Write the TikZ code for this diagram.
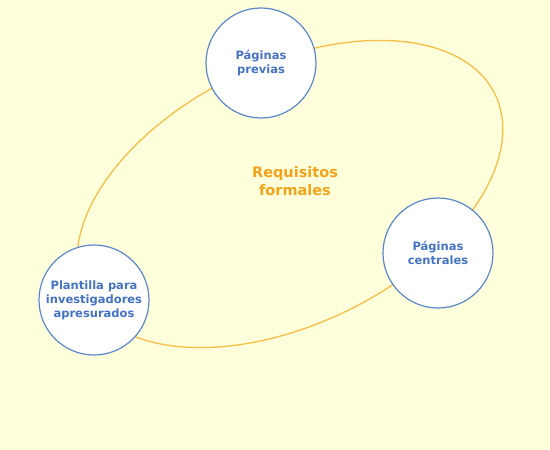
\documentclass[tikz,border=0pt]{standalone}
\usepackage{fontspec}
\setmainfont{DejaVu Sans}
\usepackage{tikz}
\usetikzlibrary{positioning}
\usepackage{xcolor}
\definecolor{pageback}{HTML}{FFFFDC}
\definecolor{ringgold}{HTML}{F7BE45}
\definecolor{titlegold}{HTML}{F2A31B}
\definecolor{circblue}{HTML}{5B87CC}
\definecolor{textblue}{HTML}{4472C4}
\tikzset{
  partcircle/.style={
    circle,
    draw=circblue,
    fill=white,
    line width=1.2pt,
    minimum size=110pt,
    inner sep=0pt,
    align=center,
    text=textblue,
    font=\bfseries\fontsize{11.5}{14}\selectfont
  },
  ringline/.style={
    draw=ringgold,
    line width=1.3pt
  },
  titletext/.style={
    align=center,
    text=titlegold,
    font=\bfseries\fontsize{14.5}{18.5}\selectfont
  }
}

\begin{document}
\begin{tikzpicture}[x=1pt,y=-1pt]
\fill[pageback] (0,0) rectangle (550,450);
\useasboundingbox (0,0) rectangle (550,450);
% ring behind the circles
\draw[ringline, rotate around={25.9:(290,194)}] (290,194) ellipse (228 and 130);
\node[titletext] (title) at (295,181) {Requisitos\\formales};
\node[partcircle] (previas) at (261,63) {Páginas\\previas};
\node[partcircle] (centrales) at (438,253) {Páginas\\centrales};
\node[partcircle] (plantilla) at (94,300) {Plantilla para\\investigadores\\apresurados};
\end{tikzpicture}
\end{document}
